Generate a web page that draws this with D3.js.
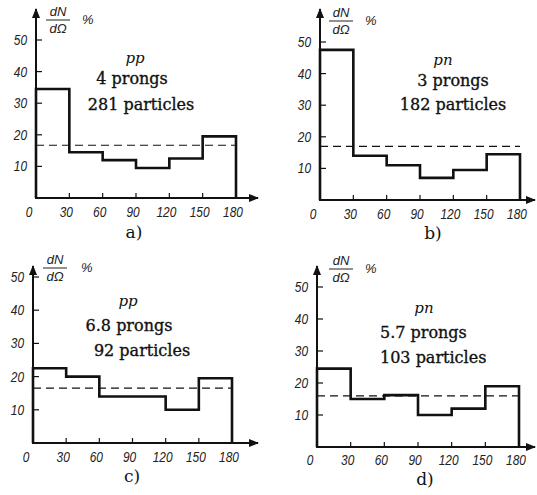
<!DOCTYPE html>
<html>
<head>
<meta charset="utf-8">
<script src="https://cdn.jsdelivr.net/npm/d3@7"></script>
<style>
  body { margin: 0; background: #fff; }
  svg { display: block; }
  .tick-label { font-family: 'Liberation Sans', Arial, sans-serif; font-style: italic; font-size: 14px; fill: #222; }
  .info { font-family: 'DejaVu Serif', 'Liberation Serif', serif; font-size: 16px; fill: #111; stroke: #111; stroke-width: 0.35; }
  .reaction { font-family: 'DejaVu Serif', 'Liberation Serif', serif; font-style: italic; font-size: 15px; fill: #111; }
  .frac { font-family: 'Liberation Sans', Arial, sans-serif; font-style: italic; font-size: 13px; fill: #222; }
  .caption { font-family: 'DejaVu Serif', 'Liberation Serif', serif; font-size: 17px; fill: #111; }
</style>
</head>
<body>
<div id="chart"></div>
<script>
"use strict";
// angle bins (degrees)
const binEdges = [0, 30, 60, 90, 120, 150, 180];
const xTicks = [0, 30, 60, 90, 120, 150, 180];
const yTicks = [10, 20, 30, 40, 50];

// dN/dOmega in % for each 30 degree bin
const valuesA = [34.5, 14.5, 12, 9.5, 12.5, 19.5];
const valuesB = [47.5, 14, 11, 7, 9.5, 14.5];
const valuesC = [22.5, 20, 14, 14, 10, 19.5];
const valuesD = [24.5, 15, 16.2, 10, 12, 19];
// isotropic level (dashed)
const isoLevels = [16.7, 17, 16.5, 16];

const reactions = ['pp', 'pn', 'pp', 'pn'];
const prongs = ['4 prongs', '3 prongs', '6.8 prongs', '5.7 prongs'];
const particles = ['281 particles', '182 particles', '92 particles', '103 particles'];
const captions = ['a)', 'b)', 'c)', 'd)'];
const allValues = [valuesA, valuesB, valuesC, valuesD];

// layout of each panel in pixels
const layout = [
  { x0: 36, x1: 236, yZero: 198, yTop: 40, axisTop: 9, axisEnd: 258, fracY: 20, fracDx: 22, pctDx: 46,
    tickDy: 19, cap: [134, 238],
    text: { anchor: 'middle', rx: 135, ry: 63, lines: [[132, 84], [141, 110]] } },
  { x0: 320, x1: 520, yZero: 200, yTop: 42, axisTop: 9, axisEnd: 535, fracY: 21, fracDx: 21, pctDx: 45,
    tickDy: 19, cap: [433, 239],
    text: { anchor: 'middle', rx: 443, ry: 65, lines: [[453, 86], [453, 110]] } },
  { x0: 33, x1: 232, yZero: 443, yTop: 277, axisTop: 266, axisEnd: 258, fracY: 268, fracDx: 22, pctDx: 48,
    tickDy: 19, cap: [132, 482],
    text: { anchor: 'middle', rx: 128, ry: 306, lines: [[129, 331], [142, 356]] } },
  { x0: 317, x1: 519, yZero: 447, yTop: 287, axisTop: 266, axisEnd: 535, fracY: 269, fracDx: 24, pctDx: 48,
    tickDy: 18, cap: [425, 485],
    text: { anchor: 'start', rx: 424, ry: 313, lines: [[380, 338], [380, 363]] } }
];

const svg = d3.select('#chart').append('svg')
  .attr('width', 537).attr('height', 495);

svg.append('defs').append('marker')
  .attr('id', 'arrow')
  .attr('viewBox', '0 0 10 10')
  .attr('refX', 9).attr('refY', 5)
  .attr('markerWidth', 5).attr('markerHeight', 5)
  .attr('orient', 'auto')
  .append('path').attr('d', 'M0,1 L10,5 L0,9 Z').attr('fill', '#111');

allValues.forEach(function (values, p) {
  const L = layout[p];
  const x = d3.scaleLinear().domain([0, 180]).range([L.x0, L.x1]);
  const y = d3.scaleLinear().domain([0, 50]).range([L.yZero, L.yTop]);
  const g = svg.append('g');

  // axes with arrows
  g.append('line')
    .attr('x1', L.x0).attr('x2', L.x0)
    .attr('y1', L.yZero + 1).attr('y2', L.axisTop)
    .attr('stroke', '#111').attr('stroke-width', 2)
    .attr('marker-end', 'url(#arrow)');
  g.append('line')
    .attr('x1', L.x0 - 1).attr('x2', L.axisEnd)
    .attr('y1', L.yZero).attr('y2', L.yZero)
    .attr('stroke', '#111').attr('stroke-width', 2)
    .attr('marker-end', 'url(#arrow)');

  // y ticks
  g.selectAll('.yt').data(yTicks).enter().append('line')
    .attr('x1', L.x0).attr('x2', L.x0 + 6)
    .attr('y1', d => y(d)).attr('y2', d => y(d))
    .attr('stroke', '#111').attr('stroke-width', 1.2);
  g.selectAll('.yl').data(yTicks).enter().append('text')
    .attr('class', 'tick-label')
    .attr('text-anchor', 'end')
    .attr('transform', d => 'translate(' + (L.x0 - 9) + ',' + (y(d) + 5) + ') scale(0.85,1)')
    .text(d => d);

  // x ticks
  g.selectAll('.xt').data(xTicks).enter().append('line')
    .attr('x1', d => x(d)).attr('x2', d => x(d))
    .attr('y1', L.yZero).attr('y2', L.yZero - 5)
    .attr('stroke', '#111').attr('stroke-width', 1.2);
  g.selectAll('.xl').data(xTicks).enter().append('text')
    .attr('class', 'tick-label')
    .attr('text-anchor', 'middle')
    .attr('transform', d => 'translate(' + (x(d) - (d === 0 ? 7 : 3)) + ',' + (L.yZero + L.tickDy) + ') scale(0.85,1)')
    .text(d => d);

  // isotropic dashed level
  g.append('line')
    .attr('x1', x(0)).attr('x2', x(180))
    .attr('y1', y(isoLevels[p])).attr('y2', y(isoLevels[p]))
    .attr('stroke', '#111').attr('stroke-width', 1.2)
    .attr('stroke-dasharray', '8,5');

  // histogram steps
  const pts = [[x(0), y(0)]];
  values.forEach(function (v, i) {
    pts.push([x(binEdges[i]), y(v)]);
    pts.push([x(binEdges[i + 1]), y(v)]);
  });
  pts.push([x(180), y(0)]);
  g.append('path')
    .attr('d', d3.line()(pts))
    .attr('fill', 'none')
    .attr('stroke', '#111').attr('stroke-width', 2.6);

  // dN / dOmega %
  const fx = L.x0 + L.fracDx;
  g.append('text').attr('class', 'frac').attr('x', fx).attr('y', L.fracY - 4)
    .attr('text-anchor', 'middle').text('dN');
  g.append('line').attr('x1', fx - 12).attr('x2', fx + 12)
    .attr('y1', L.fracY).attr('y2', L.fracY)
    .attr('stroke', '#222').attr('stroke-width', 1);
  g.append('text').attr('class', 'frac').attr('x', fx).attr('y', L.fracY + 13)
    .attr('text-anchor', 'middle').text('dΩ');
  g.append('text').attr('class', 'frac').attr('x', L.x0 + L.pctDx).attr('y', L.fracY + 4)
    .text('%');

  // info text
  g.append('text').attr('class', 'reaction')
    .attr('x', L.text.rx).attr('y', L.text.ry)
    .attr('text-anchor', 'middle').text(reactions[p]);
  [prongs[p], particles[p]].forEach(function (s, i) {
    g.append('text').attr('class', 'info')
      .attr('x', L.text.lines[i][0]).attr('y', L.text.lines[i][1])
      .attr('text-anchor', L.text.anchor).text(s);
  });

  // caption
  g.append('text').attr('class', 'caption')
    .attr('x', L.cap[0]).attr('y', L.cap[1])
    .attr('text-anchor', 'middle').text(captions[p]);
});
</script>
</body>
</html>
